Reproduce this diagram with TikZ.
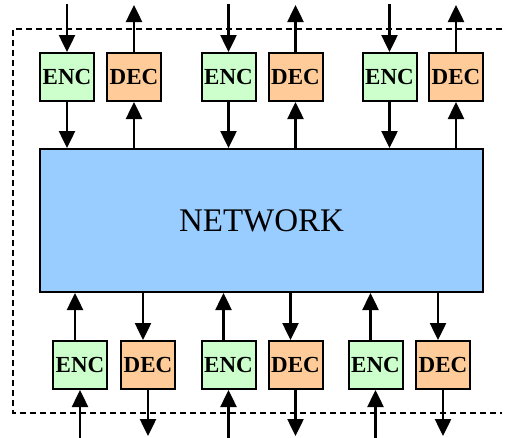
\documentclass[tikz,border=0pt]{standalone}
\usepackage{fontspec}
\setmainfont{Liberation Serif}
\usetikzlibrary{arrows.meta}
\definecolor{encfill}{HTML}{CCFFCC}
\definecolor{decfill}{HTML}{FFCC99}
\definecolor{netfill}{HTML}{99CCFF}
\tikzset{
  box/.style={draw=black, line width=2pt, minimum width=54pt, minimum height=48pt, inner sep=0pt,
    font=\fontsize{23}{26}\selectfont\bfseries},
  encbox/.style={box, fill=encfill},
  decbox/.style={box, fill=decfill},
  netbox/.style={draw=black, line width=2pt, fill=netfill, minimum width=443pt, minimum height=143pt,
    inner sep=0pt, font=\fontsize{33}{38}\selectfont},
  arr/.style={line width=2.5pt, -{Triangle[length=17pt,width=16pt]}},
  frame/.style={line width=2pt, dash pattern=on 6pt off 4pt}
}
\begin{document}
\begin{tikzpicture}[x=1pt,y=-1pt]
\useasboundingbox (0,0) rectangle (505,437);
% dashed frame
\coordinate (fa) at (502,29);
\coordinate (fb) at (13,29);
\coordinate (fc) at (13,413);
\coordinate (fd) at (502,413);
\draw[frame] (fa) -- (fb) -- (fc) -- (fd);
% network
\node[netbox] (net) at (261.5,220.5) {NETWORK};
% top row
\node[encbox] (te1) at (67,77) {ENC};
\node[decbox] (td1) at (134,77) {DEC};
\node[encbox] (te2) at (228.5,77) {ENC};
\node[decbox] (td2) at (295.5,77) {DEC};
\node[encbox] (te3) at (389.5,77) {ENC};
\node[decbox] (td3) at (456,77) {DEC};
% bottom row
\node[encbox] (be1) at (80,365) {ENC};
\node[decbox] (bd1) at (148,365) {DEC};
\node[encbox] (be2) at (228.5,365) {ENC};
\node[decbox] (bd2) at (295.5,365) {DEC};
\node[encbox] (be3) at (375.5,365) {ENC};
\node[decbox] (bd3) at (443,365) {DEC};
% top external ends
\foreach \i in {1,2,3} {
  \coordinate (tin\i) at ([yshift=48pt]te\i.north);
  \coordinate (tout\i) at ([yshift=47pt]td\i.north);
  \draw[arr] (tin\i) -- (te\i.north);
  \draw[arr] (td\i.north) -- (tout\i);
  \draw[arr] (te\i.south) -- (te\i.south |- net.north);
  \draw[arr] (td\i.south |- net.north) -- (td\i.south);
}
% bottom
\foreach \i in {1,2,3} {
  \coordinate (bin\i) at ([yshift=-48pt]be\i.south);
  \coordinate (bout\i) at ([yshift=-46pt]bd\i.south);
  \draw[arr] (bin\i) -- (be\i.south);
  \draw[arr] (bd\i.south) -- (bout\i);
  \draw[arr] ([xshift=-5pt]be\i.north) -- ([xshift=-5pt]be\i.north |- net.south);
  \draw[arr] ([xshift=-5pt]bd\i.north |- net.south) -- ([xshift=-5pt]bd\i.north);
}
\end{tikzpicture}
\end{document}
